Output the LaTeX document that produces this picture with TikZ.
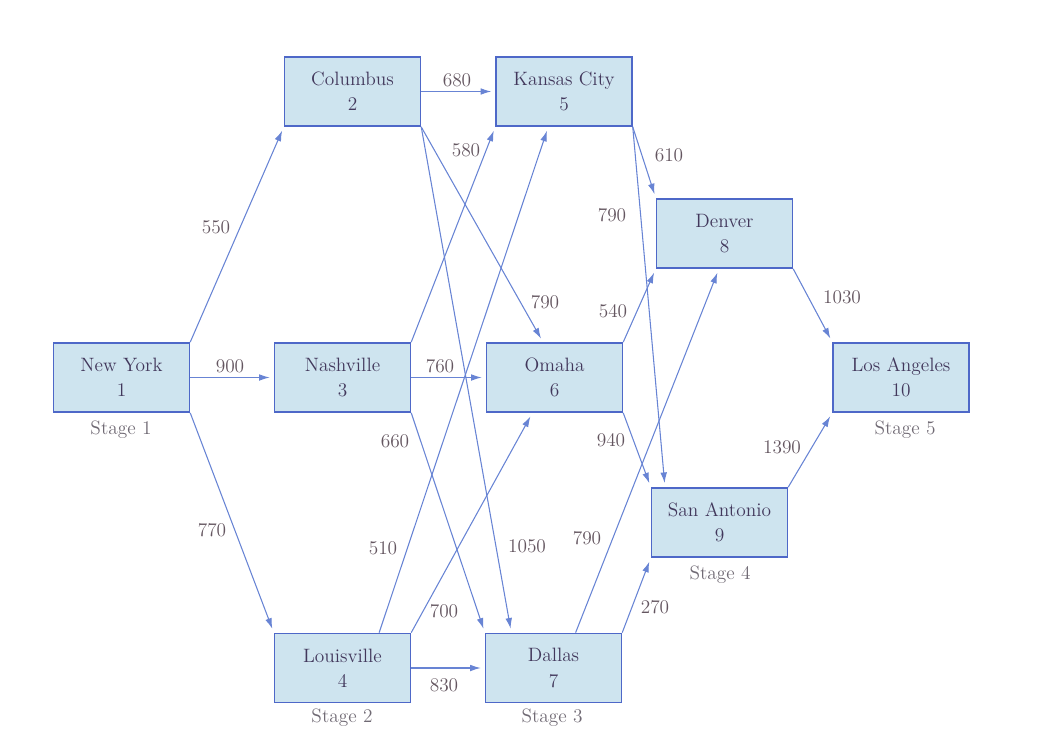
\documentclass[tikz,border=0pt]{standalone}
\usetikzlibrary{arrows.meta}

\definecolor{cityfill}{RGB}{206,228,239}
\definecolor{cityline}{RGB}{78,104,200}
\definecolor{roadline}{RGB}{104,132,212}
\definecolor{citytext}{RGB}{66,56,92}
\definecolor{disttext}{RGB}{100,86,96}
\definecolor{stagetext}{RGB}{112,106,116}

\tikzset{every picture/.style={line width=0.75pt}}
\tikzset{
  city/.style={draw=cityline, fill=cityfill, line width=1.1pt, minimum width=102pt, minimum height=52pt,
    align=center, text=citytext, font=\rmfamily\fontsize{14.5}{19}\selectfont},
  road/.style={draw=roadline, line width=0.8pt, shorten >=3pt, -{Latex[length=8pt,width=5pt]}},
  dist/.style={text=disttext, font=\rmfamily\fontsize{14.5}{18}\selectfont},
  stagelabel/.style={text=stagetext, font=\rmfamily\fontsize{14.5}{18}\selectfont}
}

\begin{document}
\begin{tikzpicture}[x=0.75pt,y=0.75pt,yscale=-1,xscale=1]
\useasboundingbox (0,0) rectangle (1044,731);

%Shape: Rectangle [cities]
\node [city] (ny) at (121.5,377.5) {New York\\1};
\node [city] (col) at (352.5,91.5) {Columbus\\2};
\node [city] (nash) at (342.5,377.5) {Nashville\\3};
\node [city] (lou) at (342.5,668) {Louisville\\4};
\node [city] (kc) at (564,91.5) {Kansas City\\5};
\node [city] (om) at (554.5,377.5) {Omaha\\6};
\node [city] (dal) at (553.5,668) {Dallas\\7};
\node [city] (den) at (724.5,233.5) {Denver\\8};
\node [city] (sa) at (719.5,522.5) {San Antonio\\9};
\node [city] (la) at (901,377.5) {Los Angeles\\10};

%Straight Lines [roads]
\draw [road] (ny.north east) -- (col.south west);
\draw [road] (ny.east) -- (nash.west);
\draw [road] (ny.south east) -- (lou.north west);
\draw [road] (col.east) -- (kc.west);
\draw [road] (col.south east) -- (om.108);
\draw [road] (col.south east) -- (dal.140);
\draw [road] (nash.north east) -- (kc.south west);
\draw [road] (nash.east) -- (om.west);
\draw [road] (nash.south east) -- (dal.north west);
\draw [road] (lou.44) -- (kc.246);
\draw [road] (lou.north east) -- (om.238);
\draw [road] (lou.east) -- (dal.west);
\draw [road] (kc.south east) -- (den.north west);
\draw [road] (kc.south east) -- (sa.147);
\draw [road] (om.north east) -- (den.south west);
\draw [road] (om.south east) -- (sa.north west);
\draw [road] (dal.58) -- (den.261);
\draw [road] (dal.north east) -- (sa.south west);
\draw [road] (den.south east) -- (la.north west);
\draw [road] (sa.north east) -- (la.south west);

% Text Node
\node [dist] (d12) at (216,227) {550};
\node [dist] (d13) at (230,366) {900};
\node [dist] (d14) at (212,530) {770};
\node [dist] (d25) at (457,80) {680};
\node [dist] (d35) at (466,150) {580};
\node [dist] (d26) at (545,302) {790};
\node [dist] (d36) at (440,366) {760};
\node [dist] (d37) at (395,441) {660};
\node [dist] (d27) at (527,546) {1050};
\node [dist] (d45) at (383,548) {510};
\node [dist] (d46) at (444,611) {700};
\node [dist] (d47) at (444,685) {830};
\node [dist] (d58) at (669,155) {610};
\node [dist] (d59) at (612,215) {790};
\node [dist] (d68) at (613,311) {540};
\node [dist] (d69) at (611,440) {940};
\node [dist] (d78) at (587,538) {790};
\node [dist] (d79) at (655,607) {270};
\node [dist] (d810) at (842,297) {1030};
\node [dist] (d910) at (782,447) {1390};

% Text Node
\node [stagelabel] (s1) at (121,430) {Stage 1};
\node [stagelabel] (s2) at (342,718) {Stage 2};
\node [stagelabel] (s3) at (552,718) {Stage 3};
\node [stagelabel] (s4) at (720,575) {Stage 4};
\node [stagelabel] (s5) at (905,430) {Stage 5};

\end{tikzpicture}
\end{document}
